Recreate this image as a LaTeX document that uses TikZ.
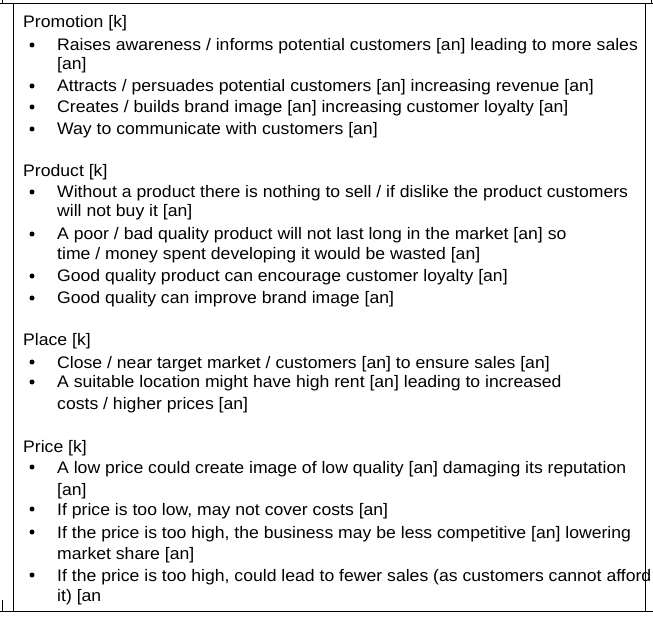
\documentclass[tikz,border=0pt]{standalone}
\usepackage{fontspec}
\setmainfont[FakeStretch=1.055]{Liberation Sans}
\begin{document}
\begin{tikzpicture}[x=1pt,y=-1pt,
 t/.style={anchor=base west,inner sep=0pt,font=\fontsize{16.7}{19}\selectfont},
 b/.style={fill=black,circle,inner sep=0pt,minimum size=5pt}]
\useasboundingbox (0,0) rectangle (653,617);
\draw[line width=0.8pt] (2,0)--(2,3) (0,3)--(653,3) (13,3)--(13,611) (645,3)--(645,611) (651,0)--(651,3)
 (2,600)--(2,611) (0,611)--(653,611);
\newcommand\hd[3]{\node[t] (#1) at (23,#2+6) {#3};}
\newcommand\bl[3]{\node[b] (#1b) at (32,#2) {}; \node[t] (#1) at (57,#2+6) {#3};}
\newcommand\ct[3]{\node[t] (#1) at (57,#2+6) {#3};}
\hd{h1}{22}{Promotion [k]}
\bl{a1}{45}{Raises awareness / informs potential customers [an] leading to more sales}
\ct{a1c}{64}{[an]}
\bl{a2}{86}{Attracts / persuades potential customers [an] increasing revenue [an]}
\bl{a3}{107}{Creates / builds brand image [an] increasing customer loyalty [an]}
\bl{a4}{129}{Way to communicate with customers [an]}
\hd{h2}{171}{Product [k]}
\bl{b1}{192}{Without a product there is nothing to sell / if dislike the product customers}
\ct{b1c}{211}{will not buy it [an]}
\bl{b2}{234}{A poor / bad quality product will not last long in the market [an] so}
\ct{b2c}{254}{time / money spent developing it would be wasted [an]}
\bl{b3}{276}{Good quality product can encourage customer loyalty [an]}
\bl{b4}{298}{Good quality can improve brand image [an]}
\hd{h3}{340}{Place [k]}
\bl{c1}{362}{Close / near target market / customers [an] to ensure sales [an]}
\bl{c2}{382}{A suitable location might have high rent [an] leading to increased}
\ct{c2c}{403}{costs / higher prices [an]}
\hd{h4}{446}{Price [k]}
\bl{d1}{467}{A low price could create image of low quality [an] damaging its reputation}
\ct{d1c}{489}{[an]}
\bl{d2}{509}{If price is too low, may not cover costs [an]}
\bl{d3}{532}{If the price is too high, the business may be less competitive [an] lowering}
\ct{d3c}{553}{market share [an]}
\bl{d4}{575}{If the price is too high, could lead to fewer sales (as customers cannot afford}
\ct{d4c}{595}{it) [an}
\end{tikzpicture}
\end{document}
